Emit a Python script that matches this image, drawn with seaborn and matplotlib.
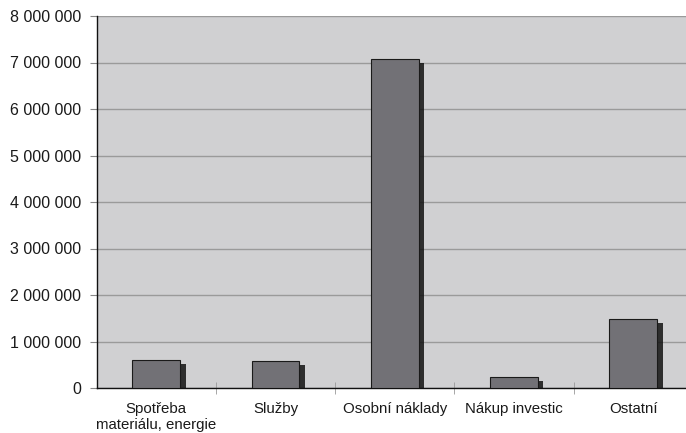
import matplotlib
matplotlib.use("Agg")
import matplotlib.pyplot as plt
import matplotlib.patheffects as pe
from matplotlib.ticker import FuncFormatter, MultipleLocator
import seaborn as sns
import pandas as pd

categories = ["Spotřeba\nmateriálu, energie", "Služby", "Osobní náklady", "Nákup investic", "Ostatní"]
values = [600000, 580000, 7070000, 240000, 1480000]

sns.set_style("white")
plt.rcParams['font.family'] = ['Liberation Sans', 'DejaVu Sans']

df = pd.DataFrame({"cat": categories, "val": values})

fig = plt.figure(figsize=(6.86, 4.33), dpi=100)
ax = fig.add_axes([96.5/686, 1 - 388/433, (693-96.5)/686, (388-16)/433])
ax.set_facecolor("#d0d0d2")

sns.barplot(data=df, x="cat", y="val", color="#727176", width=0.40,
            edgecolor="#1a1a1a", linewidth=0.8, saturation=1, ax=ax, zorder=3)

for p in ax.patches:
    p.set_path_effects([pe.SimplePatchShadow(offset=(4, -3), shadow_rgbFace="#111111", alpha=0.85),
                        pe.Normal()])

ax.set_ylim(0, 8000000)
ax.set_xlim(-0.5, 4.5)
ax.yaxis.set_major_locator(MultipleLocator(1000000))
ax.yaxis.set_major_formatter(FuncFormatter(lambda v, p: f"{int(v):,}".replace(",", " ")))
ax.grid(axis="y", color="#9a9a9a", linewidth=1, zorder=0)
ax.set_axisbelow(True)

for s in ["top", "right"]:
    ax.spines[s].set_visible(False)
for s in ["left", "bottom"]:
    ax.spines[s].set_color("#111111")
    ax.spines[s].set_linewidth(1)

ax.set_xlabel("")
ax.set_ylabel("")
ax.set_xticks(range(len(categories)))
ax.set_xticklabels(categories, fontsize=10.8, color="#1a1a1a", linespacing=1.15, va="top")
ax.set_xticks([i + 0.5 for i in range(len(categories) - 1)], minor=True)
ax.tick_params(axis="x", which="major", length=0, pad=10)
ax.tick_params(axis="x", which="minor", length=8, color="#999999", direction="inout", bottom=True)
ax.tick_params(axis="y", length=5, color="#888888", labelsize=11.5, labelcolor="#1a1a1a", left=True, pad=6)

fig.savefig("out.png", dpi=100)
